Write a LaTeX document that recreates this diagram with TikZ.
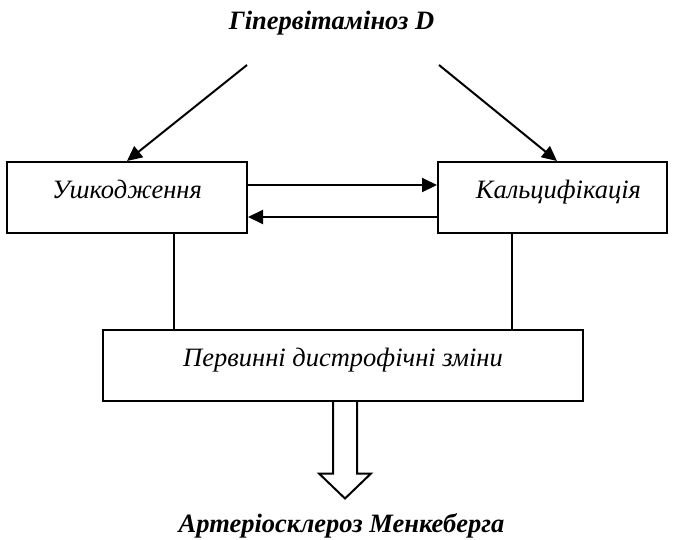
\documentclass[tikz,border=0pt]{standalone}
\usepackage{fontspec}
\setmainfont{Liberation Serif}
\usetikzlibrary{arrows.meta,calc}
\begin{document}
\begin{tikzpicture}[x=1pt,y=-1pt,
  box/.style={draw,line width=2pt,minimum width=#1,minimum height=71pt,inner sep=0pt},
  boxtext/.style={font=\fontsize{26.5}{30}\selectfont\itshape,anchor=base,inner sep=0pt},
  headtext/.style={font=\fontsize{26.5}{30}\selectfont\bfseries\itshape,anchor=base,inner sep=0pt},
  conn/.style={line width=2pt,-{Triangle[length=15pt,width=14pt]}},
  link/.style={line width=2pt}]
  \useasboundingbox (0,0) rectangle (673,539);

  % headings
  \node[headtext] (vit) at (331.5,29) {Гіпервітаміноз D};
  \node[headtext] (menk) at (341.5,532) {Артеріосклероз Менкеберга};

  % boxes
  \node[box=240pt] (damage) at (127,197.5) {};
  \node[box=229pt] (calc) at (552.5,197.5) {};
  \node[box=480pt] (prim) at (343,365) {};
  \node[boxtext] (damagetext) at ($(damage.center)+(0,0.5)$) {Ушкодження};
  \node[boxtext] (calctext) at ($(calc.center)+(6,0.5)$) {Кальцифікація};
  \node[boxtext] (primtext) at ($(prim.center)+(0,1)$) {Первинні дистрофічні зміни};

  % arrows from the vitamin D excess
  \coordinate (vl) at (247,65);
  \coordinate (vr) at (439,65);
  \draw[conn] (vl) -- ($(damage.north west)+(121,0)$);
  \draw[conn] (vr) -- ($(calc.north west)+(120,0)$);

  % mutual arrows between the two boxes
  \draw[conn] ([yshift=12.5pt]damage.east) -- ([yshift=12.5pt]calc.west);
  \draw[conn] ([yshift=-19.5pt]calc.west) -- ([yshift=-19.5pt]damage.east);

  % links down to the primary changes
  \draw[link] ($(damage.south west)+(168,0)$) coordinate (dl) -- (dl |- prim.north);
  \draw[link] ($(calc.south west)+(75,0)$) coordinate (cl) -- (cl |- prim.north);

  % hollow block arrow
  \coordinate (hs) at ($(prim.south)+(2,0)$);
  \draw[link,line join=miter] ($(hs)+(-12,0)$) -- ($(hs)+(-12,72)$) -- ($(hs)+(-26,72)$)
    -- ($(hs)+(0,97)$) -- ($(hs)+(26,72)$) -- ($(hs)+(12,72)$) -- ($(hs)+(12,0)$);
\end{tikzpicture}
\end{document}
